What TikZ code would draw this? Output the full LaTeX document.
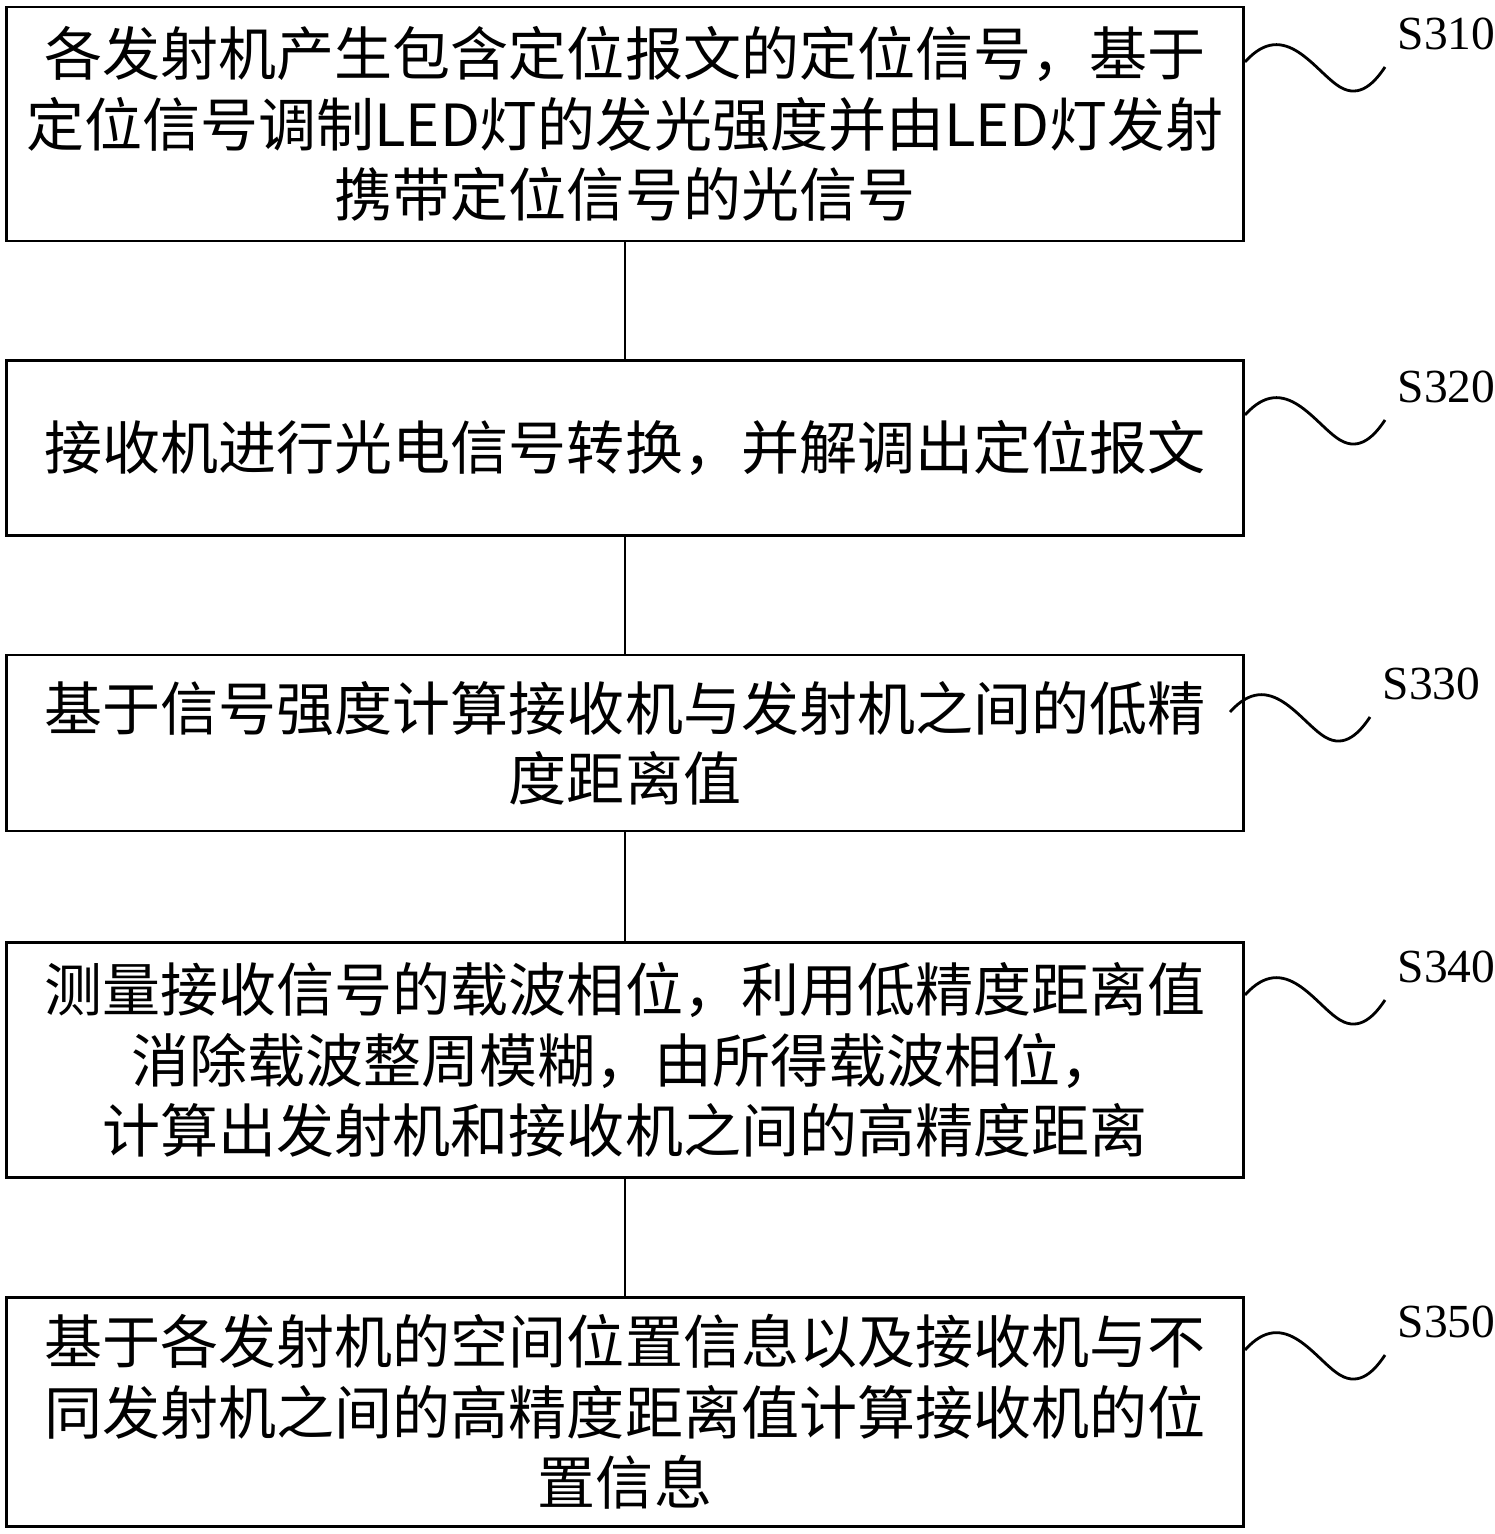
\documentclass[tikz,border=0pt]{standalone}
\usepackage{fontspec}
\setmainfont{Liberation Serif}
\newfontfamily\cjk{Noto Sans CJK SC}
\usetikzlibrary{positioning}
\tikzset{
    step_box/.style={draw=black, line width=0.8pt, minimum width=12.36cm, text width=12.2cm,
        align=center, inner sep=0pt, font=\cjk\fontsize{16.5pt}{20pt}\selectfont},
    step_label/.style={font=\fontsize{13.5pt}{16pt}\selectfont, inner sep=0pt},
    wave/.style={line width=0.8pt}
}
\begin{document}
\begin{tikzpicture}[x=0.01cm, y=-0.01cm]
        \useasboundingbox (0,0) rectangle (1495,1534);
        \node (s310) at (625, 124) [step_box, minimum height=2.34cm] {各发射机产生包含定位报文的定位信号，基于\\定位信号调制LED灯的发光强度并由LED灯发射\\携带定位信号的光信号};
        \node (s320) at (625, 448) [step_box, minimum height=1.75cm] {接收机进行光电信号转换，并解调出定位报文};
        \node (s330) at (625, 743) [step_box, minimum height=1.76cm] {基于信号强度计算接收机与发射机之间的低精\\度距离值};
        \node (s340) at (625, 1060) [step_box, minimum height=2.35cm] {测量接收信号的载波相位，利用低精度距离值\\消除载波整周模糊，由所得载波相位，\\计算出发射机和接收机之间的高精度距离};
        \node (s350) at (625, 1412) [step_box, minimum height=2.29cm] {基于各发射机的空间位置信息以及接收机与不\\同发射机之间的高精度距离值计算接收机的位\\置信息};
        \draw[line width=0.8pt] (s310.south) -- (s320.north);
        \draw[line width=0.8pt] (s320.south) -- (s330.north);
        \draw[line width=0.8pt] (s330.south) -- (s340.north);
        \draw[line width=0.8pt] (s340.south) -- (s350.north);
        % step labels with squiggles
        \foreach \name/\x/\y/\txt in {w310/1245/62/S310, w320/1245/415/S320, w330/1230/712/S330, w340/1245/995/S340, w350/1245/1350/S350} {
            \coordinate (\name a) at (\x, \y);
            \coordinate (\name b) at (\x+140, \y+5);
            \draw[wave] (\name a) .. controls (\x+40, \y-45) and (\x+70, \y+10) .. (\x+95, \y+25)
                .. controls (\x+115, \y+37) and (\x+130, \y+20) .. (\name b);
            \node[step_label, anchor=west] (\name l) at (\x+152, \y-28) {\txt};
        }
    \end{tikzpicture}
\end{document}
